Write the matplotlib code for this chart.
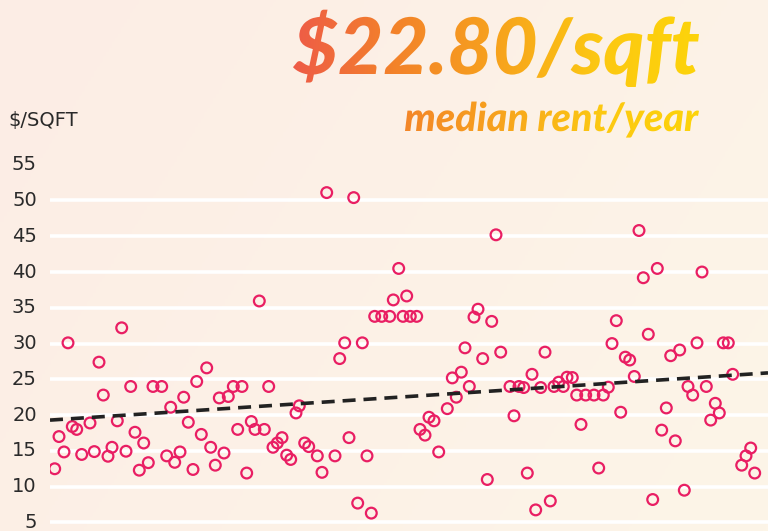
import numpy as np
import matplotlib.pyplot as plt
from matplotlib.colors import LinearSegmentedColormap
from matplotlib.font_manager import FontProperties
from matplotlib.patches import PathPatch
from matplotlib.textpath import TextPath
from matplotlib.transforms import Affine2D

W, H = 768, 531

# observation position (arbitrary time units) and rent in $/sqft
period = [54.7, 59, 64, 68, 72.3, 76.7, 81.7, 90, 94.3, 99,
          103.3, 108, 112, 117.3, 121.7, 126, 130.7, 135, 139.3, 143.7,
          148.3, 153, 161.7, 166.7, 170.7, 174.7, 180, 183.7, 188.3, 193,
          196.7, 201.3, 206.7, 210.7, 215.3, 219.3, 224, 228.3, 233.3, 237.7,
          242, 246.7, 251.3, 255, 259.3, 264.3, 268.7, 273, 277.3, 282,
          286.7, 290.7, 296, 299.3, 304.7, 308.7, 317.3, 322, 326.7, 335,
          339.7, 344.7, 349, 353.7, 357.7, 362.3, 367, 371.3, 374.7, 381.7,
          389.7, 393.3, 398.7, 403, 406.7, 410.3, 416.7, 420, 425, 429,
          434, 438.7, 447.3, 452.3, 456.3, 461.3, 465, 469.3, 474, 478,
          482.7, 487.3, 491.7, 496, 500.7, 510, 514, 519, 523.7, 527.3,
          532, 535.7, 540.7, 545, 550.3, 554, 558.7, 563.3, 567, 572.3,
          576.7, 581, 585.7, 594, 598.7, 603.3, 608.3, 612, 616.3, 620.7,
          625.3, 629.7, 634.3, 639, 643.3, 648.3, 652.7, 657.3, 661.7, 666.3,
          670.7, 675.3, 679.7, 684.3, 688, 692.7, 697, 702, 706.3, 710.7,
          715.3, 719.3, 723.3, 728.3, 732.7, 741.7, 746, 750.7, 754.7]
rent = [12.5, 17.0, 14.85, 30.1, 18.4, 18.0, 14.5, 18.9, 14.9, 27.4,
        22.8, 14.25, 15.5, 19.2, 32.2, 14.95, 24.0, 17.6, 12.3, 16.1,
        13.35, 24.0, 24.0, 14.3, 21.1, 13.4, 14.85, 22.5, 19.0, 12.4,
        24.7, 17.3, 26.6, 15.5, 13.0, 22.4, 14.7, 22.6, 24.0, 18.0,
        24.0, 11.9, 19.1, 18.0, 35.95, 18.0, 24.0, 15.5, 16.1, 16.85,
        14.4, 13.8, 20.3, 21.3, 16.1, 15.6, 14.3, 12.0, 51.1, 14.3,
        27.9, 30.1, 16.85, 50.4, 7.7, 30.1, 14.3, 6.3, 33.8, 33.8,
        33.8, 36.1, 40.5, 33.8, 36.65, 33.8, 33.8, 18.0, 17.2, 19.7,
        19.2, 14.85, 20.9, 25.2, 22.5, 26.0, 29.4, 24.0, 33.7, 34.8,
        27.9, 11.0, 33.1, 45.2, 28.8, 24.0, 19.9, 24.0, 23.85, 11.9,
        25.7, 6.75, 23.85, 28.8, 8.0, 24.0, 24.6, 24.0, 25.3, 25.25,
        22.8, 18.7, 22.8, 22.8, 12.6, 22.8, 23.9, 30.0, 33.2, 20.4,
        28.1, 27.7, 25.4, 45.8, 39.2, 31.3, 8.2, 40.5, 17.9, 21.0,
        28.3, 16.4, 29.1, 9.5, 24.0, 22.8, 30.1, 40.0, 24.0, 19.3,
        21.65, 20.3, 30.1, 30.1, 25.7, 13.0, 14.3, 15.4, 11.9]

# trend line values at the left and right edges
trend_start, trend_end = 19.3, 25.9
y_ticks = [5, 10, 15, 20, 25, 30, 35, 40, 45, 50, 55]
x_range = (50, 768)
y_range = (3.8, 55)

headline = "$22.80/sqft"
subline = "median rent/year"
unit_label = "$/SQFT"

fig = plt.figure(figsize=(W / 100, H / 100), dpi=100)

# background wash plus gradient headline, all in pixel coordinates
bg = fig.add_axes([0, 0, 1, 1], zorder=-10)
bg.axis("off")
gx, gy = np.meshgrid(np.linspace(0, 1, 256), np.linspace(0, 1, 256))
bg_cmap = LinearSegmentedColormap.from_list("bg", ["#fcede5", "#fdf5e8"])
bg.imshow(0.7 * gx + 0.3 * gy, cmap=bg_cmap, extent=[0, W, 0, H],
          aspect="auto", origin="upper")

title_cmap = LinearSegmentedColormap.from_list(
    "title", ["#ee5a48", "#f3822a", "#f7a21d", "#fcc812", "#fdd40a"])
fp = FontProperties(family="Lato", weight="black", style="italic")


def gradient_text(s, x0, x1, y_base):
    tp = TextPath((0, 0), s, size=100, prop=fp)
    bb = tp.get_extents()
    k = (x1 - x0) / bb.width
    tr = Affine2D().translate(-bb.x0, 0).scale(k).translate(x0, H - y_base)
    patch = PathPatch(tr.transform_path(tp), fc="none", ec="none",
                      transform=bg.transData)
    bg.add_patch(patch)
    im = bg.imshow(np.linspace(0, 1, 256).reshape(1, -1), cmap=title_cmap,
                   extent=[290, 702, 0, H], aspect="auto", zorder=2)
    im.set_clip_path(patch)


gradient_text(headline, 293, 699, 74)
gradient_text(subline, 405, 699, 131)
bg.set_xlim(0, W)
bg.set_ylim(0, H)

# scatter panel
ax = fig.add_axes([x_range[0] / W, 0, (W - x_range[0]) / W, (H - 164.7) / H])
ax.set_facecolor("none")
ax.set_xlim(*x_range)
ax.set_ylim(*y_range)

ax.scatter(period, rent, s=60, facecolors="none", edgecolors="#e91e63",
           linewidths=1.6, zorder=3)
ax.plot(x_range, [trend_start, trend_end], color="#222222", lw=2.6,
        dashes=(3.6, 2.2), zorder=4)

ax.set_yticks(y_ticks)
ax.set_xticks([])
ax.yaxis.grid(True, color="white", lw=2.6)
ax.set_axisbelow(True)
ax.get_ygridlines()[-1].set_visible(False)
ax.tick_params(axis="y", length=0, pad=9.5, labelsize=14, labelcolor="#2a2a2a")
for lab in ax.get_yticklabels():
    lab.set_fontfamily("DejaVu Sans")
    lab.set_verticalalignment("center")
for sp in ax.spines.values():
    sp.set_visible(False)

fig.text(8 / W, 1 - 121 / H, unit_label, fontsize=14, family="DejaVu Sans",
         color="#2a2a2a", va="center", ha="left")

fig.savefig("out.png", dpi=100)
